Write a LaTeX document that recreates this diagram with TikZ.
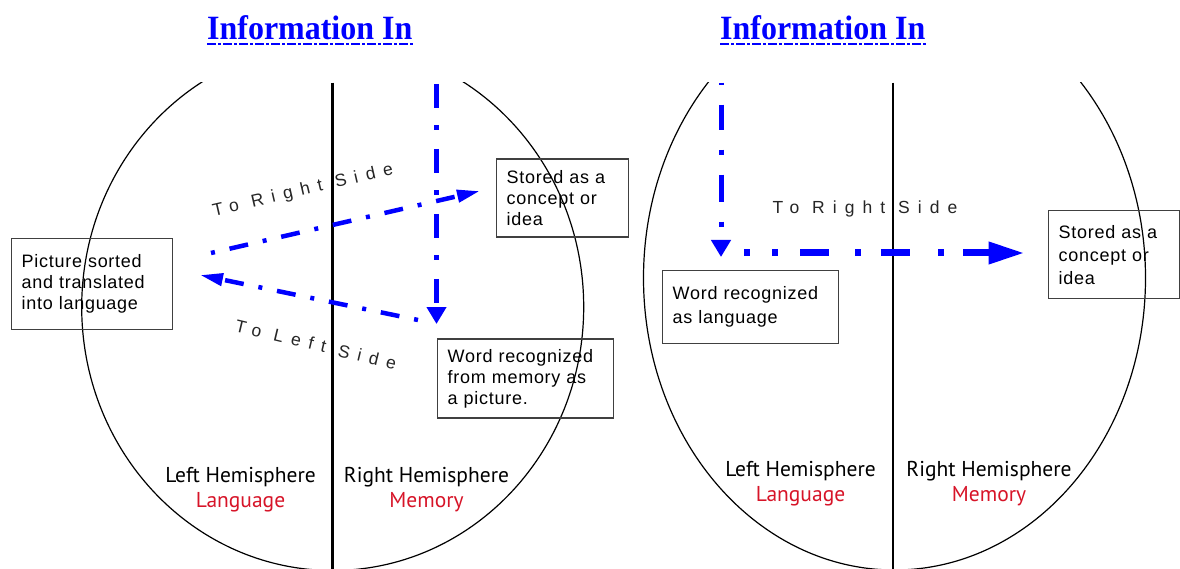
\documentclass[tikz,border=0pt]{standalone}
\usepackage{fontspec}
\usepackage{xcolor}
\usepackage{graphicx}
\usepackage{tikz}
\usetikzlibrary{arrows.meta}
\newfontfamily\boxfont[LetterSpace=4]{Liberation Sans}
\newfontfamily\sidefont[LetterSpace=46]{Liberation Sans}
\newfontfamily\hemifont{PT Sans}
\newfontfamily\titlefont{Liberation Serif}
\definecolor{linkblue}{RGB}{0,0,255}
\definecolor{hemired}{RGB}{215,20,40}

\begin{document}
\begin{tikzpicture}[x=1pt, y=-1pt,
    infobox/.style={draw=black!75, line width=1.4pt, inner xsep=10pt, inner ysep=0pt,
        align=left, anchor=north west, font=\boxfont\fontsize{18}{21}\selectfont},
    sidelabel/.style={font=\sidefont\fontsize{17.5}{17.5}\selectfont, text=black!85},
    hemilabel/.style={align=center, font=\hemifont\fontsize{21.5}{25}\selectfont},
    titletext/.style={anchor=base west, inner sep=0pt, text=linkblue,
        font=\titlefont\bfseries\fontsize{34}{34}\selectfont},
    underline/.style={draw=linkblue, line width=2.7pt, dash pattern=on 9pt off 2pt on 3pt off 2pt},
    brainline/.style={draw=black, line width=1.2pt},
    midline/.style={draw=black, line width=2.8pt},
    flow/.style={draw=linkblue, line width=4.5pt, dash pattern=on 4pt off 15pt on 19pt off 15pt,
        -{Triangle[length=23pt,width=12pt]}},
    flowdown/.style={draw=linkblue, line width=5pt, dash pattern=on 24pt off 17.5pt on 5pt off 18.5pt,
        -{Triangle[length=17pt,width=19pt]}},
    flowwide/.style={draw=linkblue, line width=7pt,
        dash pattern=on 6pt off 22pt on 6pt off 22pt on 29pt off 26pt on 6pt off 20pt on 29pt off 28pt on 6pt off 19pt on 40pt off 10pt,
        -{Triangle[length=36pt,width=21pt]}}]

    \path[fill=white, use as bounding box] (0,0) rectangle (1180,569);

    % Titles
    \node[titletext] (titleL) at (207,39.3) {\scalebox{0.94}[1]{Information In}};
    \node[titletext] (titleR) at (720,39.3) {\scalebox{0.94}[1]{Information In}};
    \draw[underline] ([yshift=-4.7pt]titleL.base west) -- ([yshift=-4.7pt]titleL.base east);
    \draw[underline] ([yshift=-4.7pt]titleR.base west) -- ([yshift=-4.7pt]titleR.base east);

    % Brains
    \begin{scope}
        \clip (0,82.7) rectangle (1180,569);
        \draw[brainline] (332.7,307) ellipse [x radius=251pt, y radius=263.5pt];
        \draw[brainline] (894.5,278) ellipse [x radius=251pt, y radius=292pt];
    \end{scope}
    \draw[midline] (332.5,82.7) -- (332.5,569);
    \draw[midline] (893,82.7) -- (893,569);

    % Left brain: boxes
    \node[infobox, text width=141pt, minimum height=91pt] (pictureL) at (11,238)
        {Picture sorted\\and translated\\into language};
    \node[infobox, text width=112pt, minimum height=78pt] (storedL) at (496,158.3)
        {Stored as a\\concept or\\idea};
    \node[infobox, text width=156pt, minimum height=79pt] (wordL) at (437,338.3)
        {Word recognized\\from memory as\\a picture.};

    % Left brain: flows
    \coordinate (inL) at (436.5,84);
    \coordinate (downL) at (436.5,324);
    \coordinate (toRstart) at (211,253);
    \coordinate (toRend) at (480,191);
    \coordinate (toLstart) at (418,320);
    \coordinate (toLend) at (200,275);
    \draw[flowdown] (inL) -- (downL);
    \draw[flow] (toRstart) -- (toRend);
    \draw[flow] (toLstart) -- (toLend);
    \node[sidelabel, rotate=13] (toRightL) at (303,191) {To Right Side};
    \node[sidelabel, rotate=-13.5] (toLeftL) at (316,344.5) {To Left Side};

    % Left brain: hemispheres
    \node[hemilabel] (hemiLL) at (240.5,489.5) {Left Hemisphere\\\textcolor{hemired}{Language}};
    \node[hemilabel] (hemiLR) at (426.5,489.5) {Right Hemisphere\\\textcolor{hemired}{Memory}};

    % Right brain: boxes
    \node[infobox, text width=156pt, minimum height=73pt,
        font=\boxfont\fontsize{18}{24}\selectfont] (wordR) at (662,270)
        {Word recognized\\as language};
    \node[infobox, text width=111pt, minimum height=88pt,
        font=\boxfont\fontsize{18}{23}\selectfont] (storedR) at (1048,210)
        {Stored as a\\concept or\\idea};

    % Right brain: flows
    \coordinate (inR) at (721,82.7);
    \coordinate (downR) at (721,257);
    \coordinate (acrossRstart) at (744,253);
    \coordinate (acrossRend) at (1024.5,253);
    \draw[flowdown, dash pattern=on 2pt off 20pt on 25pt off 20pt on 5pt off 20pt on 27pt off 20pt on 5pt off 30pt]
        (inR) -- (downR);
    \draw[flowwide] (acrossRstart) -- (acrossRend);
    \node[sidelabel] (toRightR) at (865,209) {To Right Side};

    % Right brain: hemispheres
    \node[hemilabel] (hemiRL) at (800.5,483.5) {Left Hemisphere\\\textcolor{hemired}{Language}};
    \node[hemilabel] (hemiRR) at (989,483.5) {Right Hemisphere\\\textcolor{hemired}{Memory}};
\end{tikzpicture}
\end{document}
